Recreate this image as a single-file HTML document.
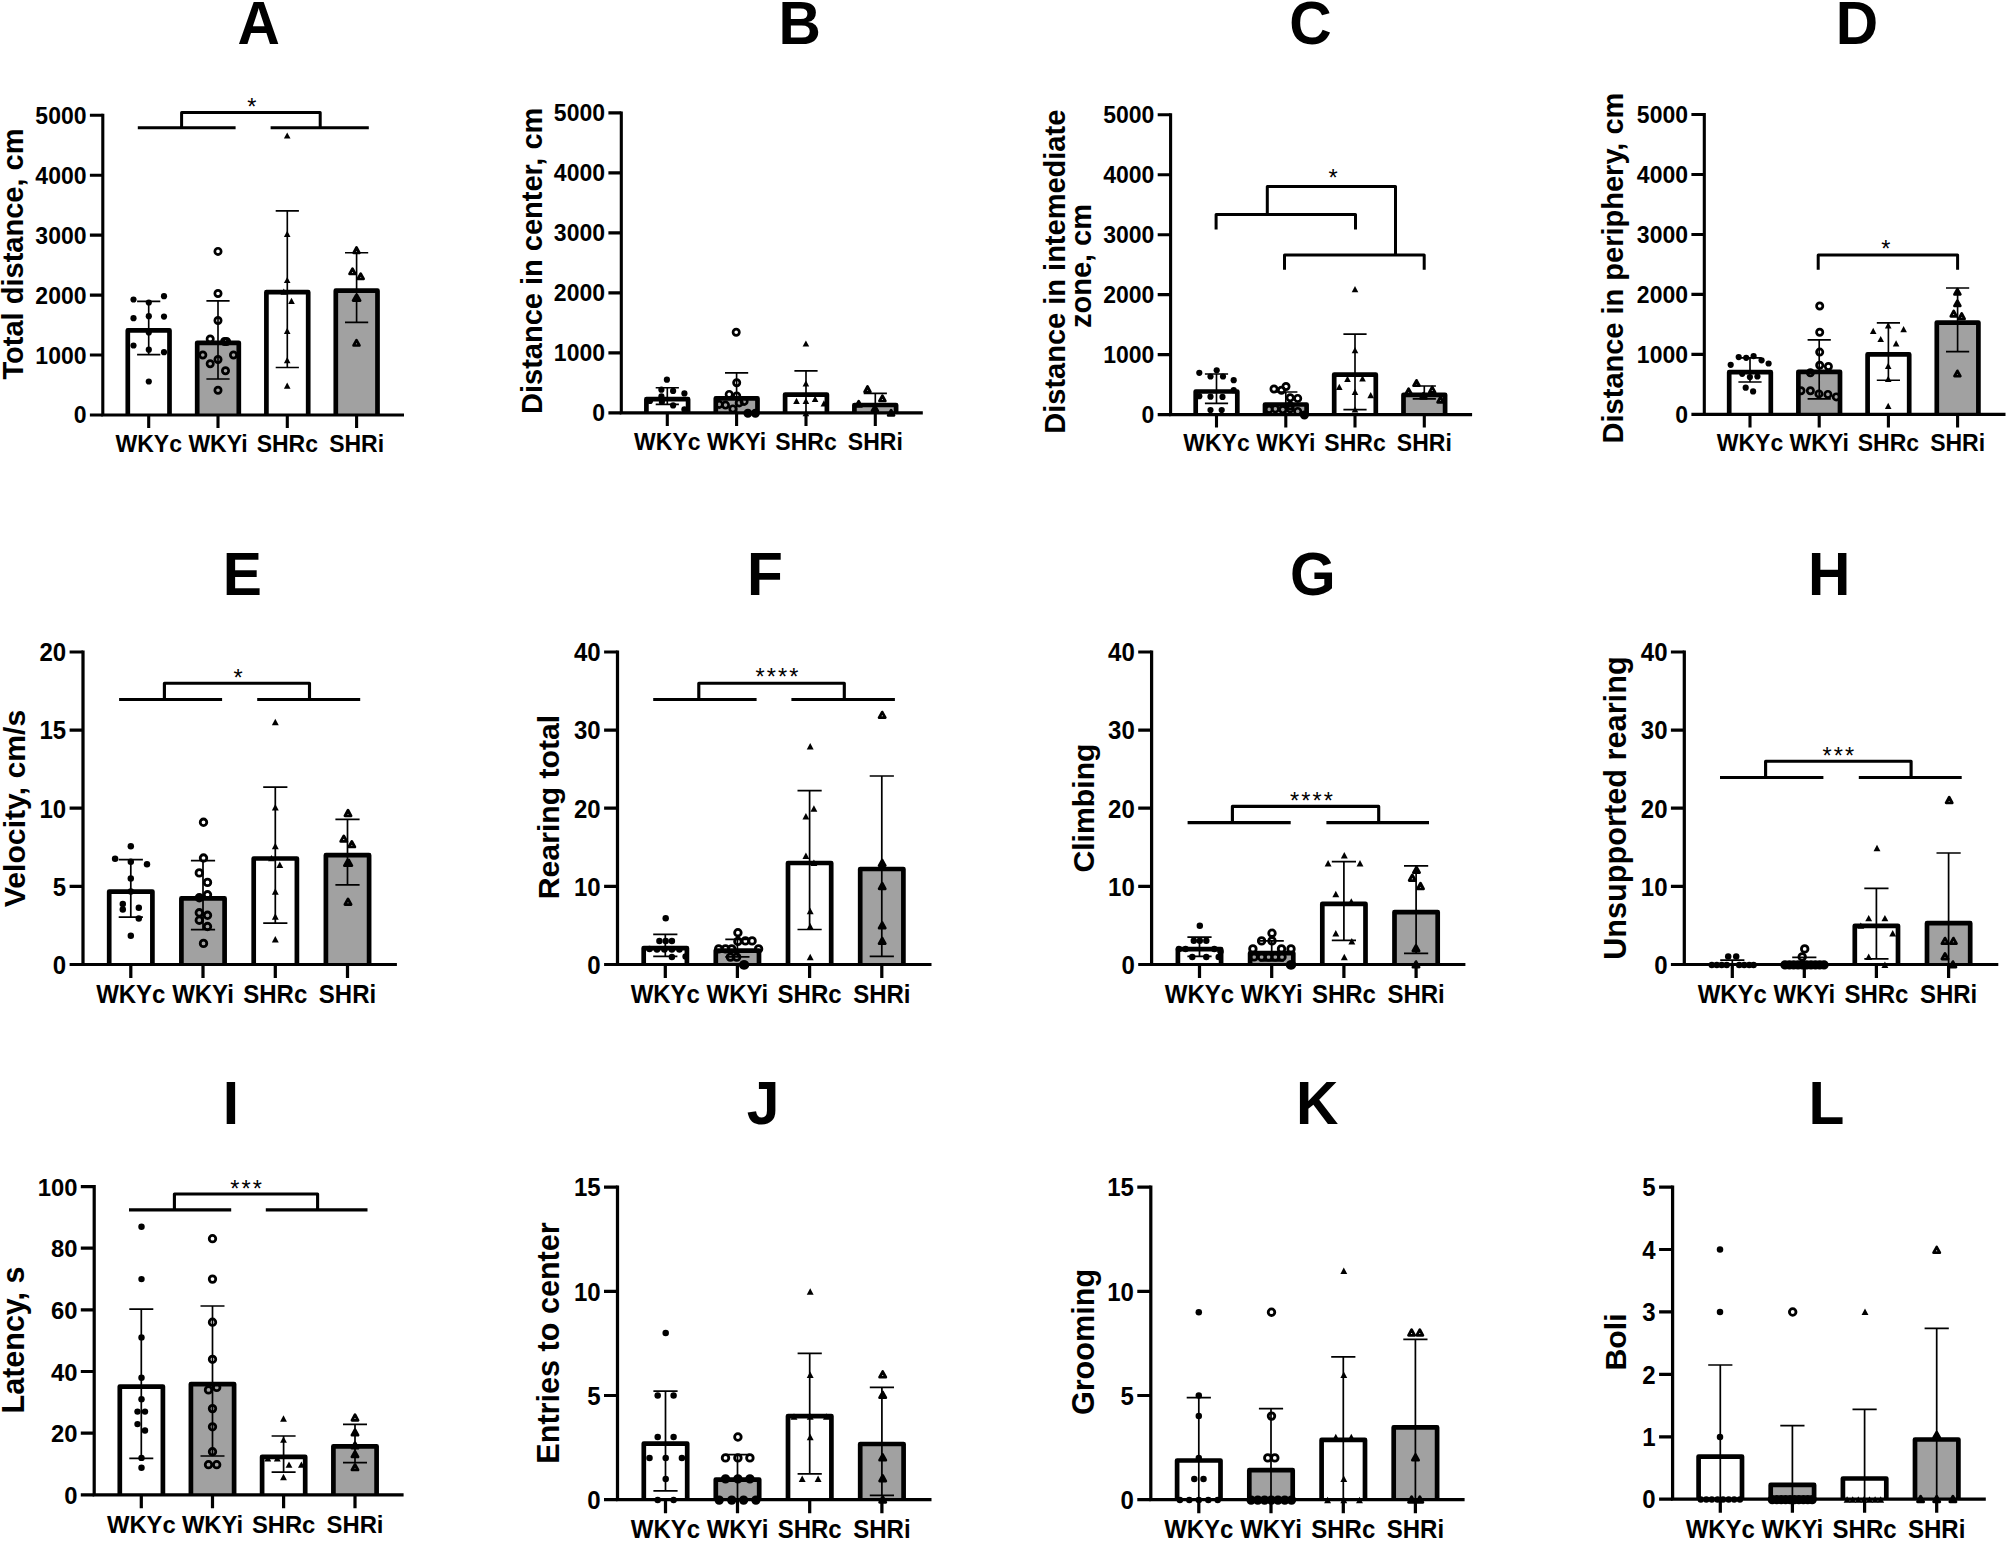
<!DOCTYPE html>
<html lang="en">
<head>
<meta charset="utf-8">
<title>Open field test: WKY and SHR rats</title>
<style>
html,body{margin:0;padding:0;background:#fff}
body{width:2007px;height:1541px;overflow:hidden}
svg{display:block}
text{font-family:"Liberation Sans",sans-serif;fill:#000}
.tt{font-size:58.7px;font-weight:700;text-anchor:middle}
.yl{font-weight:700;text-anchor:middle}
.tk{font-weight:700}
.st{font-size:23.5px;font-weight:400;letter-spacing:2.15px}
.a{fill:none;stroke:#000}
.b{stroke:#000;stroke-linejoin:round}
.e{fill:none;stroke:#000}
.k{fill:none;stroke:#000;stroke-linejoin:round}
.o{fill:none;stroke:#000;stroke-linejoin:round}
.of{fill:#000;stroke:#000;stroke-linejoin:round}
</style>
</head>
<body>
<svg width="2007" height="1541" viewBox="0 0 2007 1541">
<rect width="2007" height="1541" fill="#fff"/>
<g>
<text class="tt" transform="translate(258.7 44.2) scale(1 1.04)">A</text>
<text class="yl" font-size="29" transform="translate(23.4 254) rotate(-90)">Total distance, cm</text>
<path class="b" stroke-width="4.7" fill="#fff" d="M127.8 415V330.4H169.5V415"/>
<path class="b" stroke-width="4.7" fill="#a1a1a1" d="M197.2 415V342.8H238.8V415"/>
<path class="b" stroke-width="4.7" fill="#fff" d="M266.4 415V292.2H308.2V415"/>
<path class="b" stroke-width="4.7" fill="#a1a1a1" d="M335.8 415V290.7H377.5V415"/>
<path class="e" stroke-width="1.65" d="M148.7 301.3V354.6M137.1 301.3h23.2M137.1 354.6h23.2M218 300.8V379M206.4 300.8h23.2M206.4 379h23.2M287.3 210.9V367.5M275.7 210.9h23.2M275.7 367.5h23.2M356.6 252.7V322.4M345 252.7h23.2M345 322.4h23.2"/>
<circle cx="133.5" cy="299.5" r="3.1"/>
<circle cx="164" cy="296.2" r="3.1"/>
<circle cx="148.8" cy="302.5" r="3.1"/>
<circle cx="133.5" cy="318.2" r="3.1"/>
<circle cx="148.8" cy="316.2" r="3.1"/>
<circle cx="164" cy="316.6" r="3.1"/>
<circle cx="148.8" cy="332.5" r="3.1"/>
<circle cx="133.5" cy="345.5" r="3.1"/>
<circle cx="148.8" cy="349.7" r="3.1"/>
<circle cx="164" cy="352.2" r="3.1"/>
<circle cx="148.8" cy="381.5" r="3.1"/>
<circle cx="218" cy="251.4" r="3.15" class="o" stroke-width="2.7"/>
<circle cx="218" cy="293.5" r="3.15" class="o" stroke-width="2.7"/>
<circle cx="218" cy="320.5" r="3.15" class="o" stroke-width="2.7"/>
<circle cx="210.2" cy="339" r="3.15" class="o" stroke-width="2.7"/>
<circle cx="224.6" cy="341.5" r="3.15" class="o" stroke-width="2.7"/>
<circle cx="226.6" cy="341.5" r="3.15" class="o" stroke-width="2.7"/>
<circle cx="202.8" cy="355" r="3.15" class="o" stroke-width="2.7"/>
<circle cx="233.5" cy="355" r="3.15" class="o" stroke-width="2.7"/>
<circle cx="218" cy="359.5" r="3.15" class="o" stroke-width="2.7"/>
<circle cx="210.2" cy="363.8" r="3.15" class="o" stroke-width="2.7"/>
<circle cx="225.5" cy="370.8" r="3.15" class="o" stroke-width="2.7"/>
<circle cx="218" cy="390.3" r="3.15" class="o" stroke-width="2.7"/>
<path d="M287.2 132.4l3.3 6.2h-6.6z"/>
<path d="M287.2 230.8l3.3 6.2h-6.6z"/>
<path d="M287.2 276.9l3.3 6.2h-6.6z"/>
<path d="M291.5 297.8l3.3 6.2h-6.6z"/>
<path d="M287.2 327.7l3.3 6.2h-6.6z"/>
<path d="M287.2 357.1l3.3 6.2h-6.6z"/>
<path d="M287.2 382.5l3.3 6.2h-6.6z"/>
<path d="M283.8 288.6l3.3 6.2h-6.6z"/>
<path class="o" stroke-width="2.7" d="M356.5 247.5l2.95 5.32h-5.9z"/>
<path class="o" stroke-width="2.7" d="M352.5 268.7l2.95 5.32h-5.9z"/>
<path class="o" stroke-width="2.7" d="M360.7 273.6l2.95 5.32h-5.9z"/>
<path class="of" stroke-width="2.7" d="M356 295.3l2.95 5.32h-5.9z"/>
<path class="of" stroke-width="2.7" d="M357.2 295.3l2.95 5.32h-5.9z"/>
<path class="o" stroke-width="2.7" d="M356.5 340.2l2.95 5.32h-5.9z"/>
<path class="a" stroke-width="3.1" d="M102.8 113.7V415H404"/>
<path class="a" stroke-width="3.1" d="M89.9 415h12.9M89.9 355h12.9M89.9 295.1h12.9M89.9 235.1h12.9M89.9 175.2h12.9M89.9 115.2h12.9M148.7 415v13M218 415v13M287.3 415v13M356.6 415v13"/>
<text class="tk" font-size="23" text-anchor="end" transform="translate(86.5 423.4) scale(1 1.04)">0</text>
<text class="tk" font-size="23" text-anchor="end" transform="translate(86.5 363.5) scale(1 1.04)">1000</text>
<text class="tk" font-size="23" text-anchor="end" transform="translate(86.5 303.5) scale(1 1.04)">2000</text>
<text class="tk" font-size="23" text-anchor="end" transform="translate(86.5 243.6) scale(1 1.04)">3000</text>
<text class="tk" font-size="23" text-anchor="end" transform="translate(86.5 183.6) scale(1 1.04)">4000</text>
<text class="tk" font-size="23" text-anchor="end" transform="translate(86.5 123.6) scale(1 1.04)">5000</text>
<text class="tk" font-size="23" text-anchor="middle" transform="translate(148.7 451.7) scale(1 1.04)">WKYc</text>
<text class="tk" font-size="23" text-anchor="middle" transform="translate(218 451.7) scale(1 1.04)">WKYi</text>
<text class="tk" font-size="23" text-anchor="middle" transform="translate(287.3 451.7) scale(1 1.04)">SHRc</text>
<text class="tk" font-size="23" text-anchor="middle" transform="translate(356.6 451.7) scale(1 1.04)">SHRi</text>
<path class="k" stroke-width="3" d="M137.8 127.8H235.6M270.6 127.8H368.8M181.6 127.8V112.5H320.2V127.8"/>
<text class="st" text-anchor="middle" x="252.8" y="114.5">*</text>
</g>
<g>
<text class="tt" transform="translate(799.7 44.2) scale(1 1.04)">B</text>
<text class="yl" font-size="29" transform="translate(542.3 260.8) rotate(-90)">Distance in center, cm</text>
<path class="b" stroke-width="4.7" fill="#fff" d="M646.4 412.9V399.2H688.1V412.9"/>
<path class="b" stroke-width="4.7" fill="#a1a1a1" d="M715.8 412.9V398.4H757.5V412.9"/>
<path class="b" stroke-width="4.7" fill="#fff" d="M785.1 412.9V394.6H826.9V412.9"/>
<path class="b" stroke-width="4.7" fill="#a1a1a1" d="M854.4 412.9V405H896.1V412.9"/>
<path class="e" stroke-width="1.65" d="M667.3 387.7V404.4M655.7 387.7h23.2M655.7 404.4h23.2M736.6 372.8V412.9M725 372.8h23.2M806 370.8V412.9M794.4 370.8h23.2M875.3 393.4V412.9M863.7 393.4h23.2"/>
<circle cx="666.9" cy="379.7" r="3.1"/>
<circle cx="661.4" cy="389.7" r="3.1"/>
<circle cx="673.1" cy="390.9" r="3.1"/>
<circle cx="684.4" cy="393.4" r="3.1"/>
<circle cx="661.4" cy="396.4" r="3.1"/>
<circle cx="650" cy="400.9" r="3.1"/>
<circle cx="661.9" cy="401.9" r="3.1"/>
<circle cx="673.1" cy="405.4" r="3.1"/>
<circle cx="684.4" cy="409.4" r="3.1"/>
<circle cx="736.2" cy="332.2" r="3.15" class="o" stroke-width="2.7"/>
<circle cx="736.7" cy="382.7" r="3.15" class="o" stroke-width="2.7"/>
<circle cx="729.2" cy="394.4" r="3.15" class="o" stroke-width="2.7"/>
<circle cx="736.7" cy="395.9" r="3.15" class="o" stroke-width="2.7"/>
<circle cx="744.1" cy="401.4" r="3.15" class="o" stroke-width="2.7"/>
<circle cx="739.2" cy="402.9" r="3.15" class="o" stroke-width="2.7"/>
<circle cx="719.2" cy="404.4" r="3.15" class="o" stroke-width="2.7"/>
<circle cx="725.5" cy="405.1" r="3.15" class="o" stroke-width="2.7"/>
<circle cx="732.9" cy="408.9" r="3.15" class="o" stroke-width="2.7"/>
<circle cx="747.9" cy="413.3" r="3.15" class="of" stroke-width="2.7"/>
<circle cx="755.4" cy="413.3" r="3.15" class="of" stroke-width="2.7"/>
<path d="M805.9 340.4l3.3 6.2h-6.6z"/>
<path d="M805.9 380.3l3.3 6.2h-6.6z"/>
<path d="M796.5 397.7l3.3 6.2h-6.6z"/>
<path d="M805.9 397.7l3.3 6.2h-6.6z"/>
<path d="M815.1 395.7l3.3 6.2h-6.6z"/>
<path d="M823.9 400.2l3.3 6.2h-6.6z"/>
<path d="M805.9 410.1l3.3 6.2h-6.6z"/>
<path class="o" stroke-width="2.7" d="M867.5 386.5l2.95 5.32h-5.9z"/>
<path class="o" stroke-width="2.7" d="M882.4 395.7l2.95 5.32h-5.9z"/>
<path class="o" stroke-width="2.7" d="M858.7 401.2l2.95 5.32h-5.9z"/>
<path class="of" stroke-width="2.7" d="M874.9 405.7l2.95 5.32h-5.9z"/>
<path class="of" stroke-width="2.7" d="M891.1 410.1l2.95 5.32h-5.9z"/>
<path class="a" stroke-width="3.1" d="M621.3 111.4V412.9H922.8"/>
<path class="a" stroke-width="3.1" d="M608.4 412.9h12.9M608.4 352.9h12.9M608.4 292.9h12.9M608.4 232.9h12.9M608.4 172.9h12.9M608.4 112.9h12.9M667.3 412.9v13M736.6 412.9v13M806 412.9v13M875.3 412.9v13"/>
<text class="tk" font-size="23" text-anchor="end" transform="translate(605 421.3) scale(1 1.04)">0</text>
<text class="tk" font-size="23" text-anchor="end" transform="translate(605 361.3) scale(1 1.04)">1000</text>
<text class="tk" font-size="23" text-anchor="end" transform="translate(605 301.3) scale(1 1.04)">2000</text>
<text class="tk" font-size="23" text-anchor="end" transform="translate(605 241.3) scale(1 1.04)">3000</text>
<text class="tk" font-size="23" text-anchor="end" transform="translate(605 181.3) scale(1 1.04)">4000</text>
<text class="tk" font-size="23" text-anchor="end" transform="translate(605 121.3) scale(1 1.04)">5000</text>
<text class="tk" font-size="23" text-anchor="middle" transform="translate(667.3 449.6) scale(1 1.04)">WKYc</text>
<text class="tk" font-size="23" text-anchor="middle" transform="translate(736.6 449.6) scale(1 1.04)">WKYi</text>
<text class="tk" font-size="23" text-anchor="middle" transform="translate(806 449.6) scale(1 1.04)">SHRc</text>
<text class="tk" font-size="23" text-anchor="middle" transform="translate(875.3 449.6) scale(1 1.04)">SHRi</text>
</g>
<g>
<text class="tt" transform="translate(1310.5 44.2) scale(1 1.04)">C</text>
<text class="yl" font-size="29" transform="translate(1065 271.7) rotate(-90)">Distance in intemediate</text>
<text class="yl" font-size="29" transform="translate(1091 266) rotate(-90)">zone, cm</text>
<path class="b" stroke-width="4.7" fill="#fff" d="M1195.7 414.6V391.5H1237.3V414.6"/>
<path class="b" stroke-width="4.7" fill="#a1a1a1" d="M1265 414.6V404.5H1306.6V414.6"/>
<path class="b" stroke-width="4.7" fill="#fff" d="M1334.2 414.6V374.6H1375.8V414.6"/>
<path class="b" stroke-width="4.7" fill="#a1a1a1" d="M1403.5 414.6V394.8H1445.1V414.6"/>
<path class="e" stroke-width="1.65" d="M1216.5 374V403.4M1204.9 374h23.2M1204.9 403.4h23.2M1285.8 392V414.6M1274.2 392h23.2M1355 334.1V409.6M1343.4 334.1h23.2M1343.4 409.6h23.2M1424.3 386V398.9M1412.7 386h23.2M1412.7 398.9h23.2"/>
<circle cx="1199.3" cy="372.8" r="3.1"/>
<circle cx="1216.7" cy="370.3" r="3.1"/>
<circle cx="1210.5" cy="376.5" r="3.1"/>
<circle cx="1223" cy="376.5" r="3.1"/>
<circle cx="1233.7" cy="380.2" r="3.1"/>
<circle cx="1233.7" cy="390.2" r="3.1"/>
<circle cx="1199.3" cy="396.2" r="3.1"/>
<circle cx="1210.5" cy="396.7" r="3.1"/>
<circle cx="1222.5" cy="396.9" r="3.1"/>
<circle cx="1210.5" cy="410.1" r="3.1"/>
<circle cx="1221.7" cy="410.1" r="3.1"/>
<circle cx="1274" cy="389" r="3.15" class="o" stroke-width="2.7"/>
<circle cx="1281.5" cy="390.2" r="3.15" class="o" stroke-width="2.7"/>
<circle cx="1286" cy="386.5" r="3.15" class="o" stroke-width="2.7"/>
<circle cx="1290.2" cy="397.7" r="3.15" class="o" stroke-width="2.7"/>
<circle cx="1297.7" cy="398.4" r="3.15" class="o" stroke-width="2.7"/>
<circle cx="1290.2" cy="405.9" r="3.15" class="o" stroke-width="2.7"/>
<circle cx="1275.3" cy="408.9" r="3.15" class="o" stroke-width="2.7"/>
<circle cx="1282.8" cy="409.6" r="3.15" class="o" stroke-width="2.7"/>
<circle cx="1290.2" cy="408.9" r="3.15" class="o" stroke-width="2.7"/>
<circle cx="1297.7" cy="411.4" r="3.15" class="o" stroke-width="2.7"/>
<circle cx="1304.4" cy="415" r="3.15" class="of" stroke-width="2.7"/>
<circle cx="1269.1" cy="409.4" r="3.15" class="o" stroke-width="2.7"/>
<path d="M1355 286.1l3.3 6.2h-6.6z"/>
<path d="M1355 347.1l3.3 6.2h-6.6z"/>
<path d="M1347.5 375.8l3.3 6.2h-6.6z"/>
<path d="M1362.5 375.3l3.3 6.2h-6.6z"/>
<path d="M1339.3 383.8l3.3 6.2h-6.6z"/>
<path d="M1355 388.7l3.3 6.2h-6.6z"/>
<path d="M1370.7 392l3.3 6.2h-6.6z"/>
<path d="M1355 406.4l3.3 6.2h-6.6z"/>
<path class="o" stroke-width="2.7" d="M1416.5 380.3l2.95 5.32h-5.9z"/>
<path class="o" stroke-width="2.7" d="M1408.6 388.7l2.95 5.32h-5.9z"/>
<path class="o" stroke-width="2.7" d="M1432.2 387l2.95 5.32h-5.9z"/>
<path class="of" stroke-width="2.7" d="M1423.5 393.2l2.95 5.32h-5.9z"/>
<path class="o" stroke-width="2.7" d="M1440.5 397l2.95 5.32h-5.9z"/>
<path class="a" stroke-width="3.1" d="M1170.6 113.2V414.6H1472.1"/>
<path class="a" stroke-width="3.1" d="M1157.7 414.6h12.9M1157.7 354.6h12.9M1157.7 294.6h12.9M1157.7 234.7h12.9M1157.7 174.7h12.9M1157.7 114.7h12.9M1216.5 414.6v13M1285.8 414.6v13M1355 414.6v13M1424.3 414.6v13"/>
<text class="tk" font-size="23" text-anchor="end" transform="translate(1154.3 423.1) scale(1 1.04)">0</text>
<text class="tk" font-size="23" text-anchor="end" transform="translate(1154.3 363.1) scale(1 1.04)">1000</text>
<text class="tk" font-size="23" text-anchor="end" transform="translate(1154.3 303.1) scale(1 1.04)">2000</text>
<text class="tk" font-size="23" text-anchor="end" transform="translate(1154.3 243.1) scale(1 1.04)">3000</text>
<text class="tk" font-size="23" text-anchor="end" transform="translate(1154.3 183.1) scale(1 1.04)">4000</text>
<text class="tk" font-size="23" text-anchor="end" transform="translate(1154.3 123.2) scale(1 1.04)">5000</text>
<text class="tk" font-size="23" text-anchor="middle" transform="translate(1216.5 451.3) scale(1 1.04)">WKYc</text>
<text class="tk" font-size="23" text-anchor="middle" transform="translate(1285.8 451.3) scale(1 1.04)">WKYi</text>
<text class="tk" font-size="23" text-anchor="middle" transform="translate(1355 451.3) scale(1 1.04)">SHRc</text>
<text class="tk" font-size="23" text-anchor="middle" transform="translate(1424.3 451.3) scale(1 1.04)">SHRi</text>
<path class="k" stroke-width="3" d="M1216.1 229.4V214.5H1355.5V229.4M1284.5 269.8V255.1H1424.2V269.8M1267.3 214.5V186.5H1395.5V255.1"/>
<text class="st" text-anchor="middle" x="1334.2" y="186.1">*</text>
</g>
<g>
<text class="tt" transform="translate(1857 44.2) scale(1 1.04)">D</text>
<text class="yl" font-size="29" transform="translate(1623 268) rotate(-90)">Distance in periphery, cm</text>
<path class="b" stroke-width="4.7" fill="#fff" d="M1729.2 414.4V372.2H1770.8V414.4"/>
<path class="b" stroke-width="4.7" fill="#a1a1a1" d="M1798.4 414.4V371.8H1840V414.4"/>
<path class="b" stroke-width="4.7" fill="#fff" d="M1867.6 414.4V354.4H1909.2V414.4"/>
<path class="b" stroke-width="4.7" fill="#a1a1a1" d="M1936.8 414.4V322.6H1978.4V414.4"/>
<path class="e" stroke-width="1.65" d="M1750 357.8V382M1738.4 357.8h23.2M1738.4 382h23.2M1819.2 339.9V398.9M1807.6 339.9h23.2M1807.6 398.9h23.2M1888.4 322.9V380.2M1876.8 322.9h23.2M1876.8 380.2h23.2M1957.6 288V351.6M1946 288h23.2M1946 351.6h23.2"/>
<circle cx="1738.7" cy="357.1" r="3.1"/>
<circle cx="1746.2" cy="357.8" r="3.1"/>
<circle cx="1753.6" cy="356.1" r="3.1"/>
<circle cx="1761.6" cy="360.3" r="3.1"/>
<circle cx="1730.7" cy="364.8" r="3.1"/>
<circle cx="1768.6" cy="363.5" r="3.1"/>
<circle cx="1742.2" cy="373.8" r="3.1"/>
<circle cx="1757.4" cy="376.5" r="3.1"/>
<circle cx="1749.9" cy="377" r="3.1"/>
<circle cx="1745.7" cy="387.7" r="3.1"/>
<circle cx="1753.1" cy="391.4" r="3.1"/>
<circle cx="1819.7" cy="306" r="3.15" class="o" stroke-width="2.7"/>
<circle cx="1819.7" cy="332.2" r="3.15" class="o" stroke-width="2.7"/>
<circle cx="1819.7" cy="352.1" r="3.15" class="o" stroke-width="2.7"/>
<circle cx="1819.7" cy="365.3" r="3.15" class="o" stroke-width="2.7"/>
<circle cx="1828.4" cy="366.5" r="3.15" class="o" stroke-width="2.7"/>
<circle cx="1810.4" cy="372.8" r="3.15" class="o" stroke-width="2.7"/>
<circle cx="1801" cy="390.7" r="3.15" class="o" stroke-width="2.7"/>
<circle cx="1810.4" cy="390.7" r="3.15" class="o" stroke-width="2.7"/>
<circle cx="1818.9" cy="393.9" r="3.15" class="o" stroke-width="2.7"/>
<circle cx="1827.9" cy="394.4" r="3.15" class="o" stroke-width="2.7"/>
<circle cx="1836.3" cy="396.9" r="3.15" class="o" stroke-width="2.7"/>
<path d="M1873.2 327.7l3.3 6.2h-6.6z"/>
<path d="M1903.6 326l3.3 6.2h-6.6z"/>
<path d="M1888.2 322.2l3.3 6.2h-6.6z"/>
<path d="M1880.7 335.9l3.3 6.2h-6.6z"/>
<path d="M1896.1 340.2l3.3 6.2h-6.6z"/>
<path d="M1888.2 362.8l3.3 6.2h-6.6z"/>
<path d="M1888.2 375.8l3.3 6.2h-6.6z"/>
<path d="M1888.2 402.7l3.3 6.2h-6.6z"/>
<path class="of" stroke-width="2.7" d="M1957.4 289.1l2.95 5.32h-5.9z"/>
<path class="of" stroke-width="2.7" d="M1957.4 300.6l2.95 5.32h-5.9z"/>
<path class="o" stroke-width="2.7" d="M1953.7 311l2.95 5.32h-5.9z"/>
<path class="o" stroke-width="2.7" d="M1961.7 313.5l2.95 5.32h-5.9z"/>
<path class="o" stroke-width="2.7" d="M1957.4 370.8l2.95 5.32h-5.9z"/>
<path class="a" stroke-width="3.1" d="M1704.3 113V414.4H2005.5"/>
<path class="a" stroke-width="3.1" d="M1691.4 414.4h12.9M1691.4 354.4h12.9M1691.4 294.4h12.9M1691.4 234.5h12.9M1691.4 174.5h12.9M1691.4 114.5h12.9M1750 414.4v13M1819.2 414.4v13M1888.4 414.4v13M1957.6 414.4v13"/>
<text class="tk" font-size="23" text-anchor="end" transform="translate(1688 422.8) scale(1 1.04)">0</text>
<text class="tk" font-size="23" text-anchor="end" transform="translate(1688 362.9) scale(1 1.04)">1000</text>
<text class="tk" font-size="23" text-anchor="end" transform="translate(1688 302.9) scale(1 1.04)">2000</text>
<text class="tk" font-size="23" text-anchor="end" transform="translate(1688 242.9) scale(1 1.04)">3000</text>
<text class="tk" font-size="23" text-anchor="end" transform="translate(1688 182.9) scale(1 1.04)">4000</text>
<text class="tk" font-size="23" text-anchor="end" transform="translate(1688 123) scale(1 1.04)">5000</text>
<text class="tk" font-size="23" text-anchor="middle" transform="translate(1750 451.1) scale(1 1.04)">WKYc</text>
<text class="tk" font-size="23" text-anchor="middle" transform="translate(1819.2 451.1) scale(1 1.04)">WKYi</text>
<text class="tk" font-size="23" text-anchor="middle" transform="translate(1888.4 451.1) scale(1 1.04)">SHRc</text>
<text class="tk" font-size="23" text-anchor="middle" transform="translate(1957.6 451.1) scale(1 1.04)">SHRi</text>
<path class="k" stroke-width="3" d="M1818.2 269.7V255.1H1957.6V269.7"/>
<text class="st" text-anchor="middle" x="1886.8" y="256.6">*</text>
</g>
<g>
<text class="tt" transform="translate(242.2 594.6) scale(1 1.04)">E</text>
<text class="yl" font-size="30.2" transform="translate(25.2 808.5) rotate(-90)">Velocity, cm/s</text>
<path class="b" stroke-width="4.7" fill="#fff" d="M109.2 964.5V891.6H152.4V964.5"/>
<path class="b" stroke-width="4.7" fill="#a1a1a1" d="M181.4 964.5V898.4H224.6V964.5"/>
<path class="b" stroke-width="4.7" fill="#fff" d="M253.7 964.5V858.5H296.9V964.5"/>
<path class="b" stroke-width="4.7" fill="#a1a1a1" d="M325.9 964.5V855.2H369.1V964.5"/>
<path class="e" stroke-width="1.72" d="M130.8 859.7V917.2M118.7 859.7h24.2M118.7 917.2h24.2M203 860.7V929.7M190.9 860.7h24.2M190.9 929.7h24.2M275.3 787.2V923.2M263.2 787.2h24.2M263.2 923.2h24.2M347.5 819.3V884.9M335.4 819.3h24.2M335.4 884.9h24.2"/>
<circle cx="130.8" cy="846.2" r="3.23"/>
<circle cx="115.1" cy="858.7" r="3.23"/>
<circle cx="130.8" cy="861.7" r="3.23"/>
<circle cx="147" cy="864.2" r="3.23"/>
<circle cx="130.8" cy="878.6" r="3.23"/>
<circle cx="130.8" cy="891.6" r="3.23"/>
<circle cx="122.8" cy="904" r="3.23"/>
<circle cx="122.8" cy="909.5" r="3.23"/>
<circle cx="138.8" cy="907.8" r="3.23"/>
<circle cx="138.8" cy="918.5" r="3.23"/>
<circle cx="130.8" cy="935.7" r="3.23"/>
<circle cx="203.5" cy="822.3" r="3.28" class="o" stroke-width="2.81"/>
<circle cx="203.5" cy="858" r="3.28" class="o" stroke-width="2.81"/>
<circle cx="199.3" cy="872.9" r="3.28" class="o" stroke-width="2.81"/>
<circle cx="207.5" cy="882.4" r="3.28" class="o" stroke-width="2.81"/>
<circle cx="207.5" cy="894.8" r="3.28" class="o" stroke-width="2.81"/>
<circle cx="199.3" cy="897.8" r="3.28" class="o" stroke-width="2.81"/>
<circle cx="199.3" cy="912.8" r="3.28" class="o" stroke-width="2.81"/>
<circle cx="207.5" cy="915.3" r="3.28" class="o" stroke-width="2.81"/>
<circle cx="199.3" cy="920.2" r="3.28" class="o" stroke-width="2.81"/>
<circle cx="207.5" cy="926.5" r="3.28" class="o" stroke-width="2.81"/>
<circle cx="203.5" cy="943.4" r="3.28" class="o" stroke-width="2.81"/>
<path d="M275.3 718.8l3.44 6.46h-6.88z"/>
<path d="M275.3 804l3.44 6.46h-6.88z"/>
<path d="M275.3 842.7l3.44 6.46h-6.88z"/>
<path d="M279.8 861.6l3.44 6.46h-6.88z"/>
<path d="M275.3 888.3l3.44 6.46h-6.88z"/>
<path d="M275.3 913.2l3.44 6.46h-6.88z"/>
<path d="M275.3 936.1l3.44 6.46h-6.88z"/>
<path d="M271.5 854.9l3.44 6.46h-6.88z"/>
<path class="o" stroke-width="2.81" d="M348 810.3l3.07 5.54h-6.15z"/>
<path class="o" stroke-width="2.81" d="M343.8 835.9l3.07 5.54h-6.15z"/>
<path class="o" stroke-width="2.81" d="M351.8 841.4l3.07 5.54h-6.15z"/>
<path class="of" stroke-width="2.81" d="M347.5 860.1l3.07 5.54h-6.15z"/>
<path class="of" stroke-width="2.81" d="M348.8 860.1l3.07 5.54h-6.15z"/>
<path class="o" stroke-width="2.81" d="M348 899l3.07 5.54h-6.15z"/>
<path class="a" stroke-width="3.23" d="M83 650.4V964.5H396.9"/>
<path class="a" stroke-width="3.23" d="M69.6 964.5h13.4M69.6 886.4h13.4M69.6 808.2h13.4M69.6 730.1h13.4M69.6 652h13.4M130.8 964.5v13.5M203 964.5v13.5M275.3 964.5v13.5M347.5 964.5v13.5"/>
<text class="tk" font-size="24" text-anchor="end" transform="translate(66.2 973.7) scale(1 1.04)">0</text>
<text class="tk" font-size="24" text-anchor="end" transform="translate(66.2 895.6) scale(1 1.04)">5</text>
<text class="tk" font-size="24" text-anchor="end" transform="translate(66.2 817.5) scale(1 1.04)">10</text>
<text class="tk" font-size="24" text-anchor="end" transform="translate(66.2 739.3) scale(1 1.04)">15</text>
<text class="tk" font-size="24" text-anchor="end" transform="translate(66.2 661.2) scale(1 1.04)">20</text>
<text class="tk" font-size="24" text-anchor="middle" transform="translate(130.8 1002.7) scale(1 1.04)">WKYc</text>
<text class="tk" font-size="24" text-anchor="middle" transform="translate(203 1002.7) scale(1 1.04)">WKYi</text>
<text class="tk" font-size="24" text-anchor="middle" transform="translate(275.3 1002.7) scale(1 1.04)">SHRc</text>
<text class="tk" font-size="24" text-anchor="middle" transform="translate(347.5 1002.7) scale(1 1.04)">SHRi</text>
<path class="k" stroke-width="3.13" d="M119.1 699.5H222.1M257.2 699.5H360.2M164.4 699.5V683.2H309.5V699.5"/>
<text class="st" text-anchor="middle" x="239.1" y="685.6">*</text>
</g>
<g>
<text class="tt" transform="translate(764.8 594.6) scale(1 1.04)">F</text>
<text class="yl" font-size="30.2" transform="translate(558.5 807) rotate(-90)">Rearing total</text>
<path class="b" stroke-width="4.7" fill="#fff" d="M643.7 964.5V948.1H686.9V964.5"/>
<path class="b" stroke-width="4.7" fill="#a1a1a1" d="M715.8 964.5V950.6H759V964.5"/>
<path class="b" stroke-width="4.7" fill="#fff" d="M788 964.5V863H831.2V964.5"/>
<path class="b" stroke-width="4.7" fill="#a1a1a1" d="M860.2 964.5V869H903.4V964.5"/>
<path class="e" stroke-width="1.72" d="M665.3 934.4V956.4M653.2 934.4h24.2M653.2 956.4h24.2M737.4 939.4V956.9M725.3 939.4h24.2M725.3 956.9h24.2M809.6 790.7V929.5M797.5 790.7h24.2M797.5 929.5h24.2M881.8 776V956.4M869.7 776h24.2M869.7 956.4h24.2"/>
<circle cx="665.7" cy="918.2" r="3.23"/>
<circle cx="659.4" cy="940.9" r="3.23"/>
<circle cx="665.7" cy="940.9" r="3.23"/>
<circle cx="671.9" cy="940.9" r="3.23"/>
<circle cx="649.5" cy="948.9" r="3.23"/>
<circle cx="657" cy="949.6" r="3.23"/>
<circle cx="664.4" cy="949.6" r="3.23"/>
<circle cx="671.9" cy="949.6" r="3.23"/>
<circle cx="679.4" cy="949.6" r="3.23"/>
<circle cx="671.9" cy="957.1" r="3.23"/>
<circle cx="685.6" cy="956.4" r="3.23"/>
<circle cx="737.9" cy="932.7" r="3.28" class="o" stroke-width="2.81"/>
<circle cx="737.9" cy="941.4" r="3.28" class="o" stroke-width="2.81"/>
<circle cx="745.4" cy="940.9" r="3.28" class="o" stroke-width="2.81"/>
<circle cx="752.1" cy="940.9" r="3.28" class="o" stroke-width="2.81"/>
<circle cx="718.7" cy="948.9" r="3.28" class="o" stroke-width="2.81"/>
<circle cx="725.5" cy="948.9" r="3.28" class="o" stroke-width="2.81"/>
<circle cx="731.7" cy="948.9" r="3.28" class="o" stroke-width="2.81"/>
<circle cx="758.6" cy="948.9" r="3.28" class="o" stroke-width="2.81"/>
<circle cx="730.4" cy="957.1" r="3.28" class="o" stroke-width="2.81"/>
<circle cx="736.7" cy="957.1" r="3.28" class="o" stroke-width="2.81"/>
<circle cx="743.6" cy="964.9" r="3.28" class="of" stroke-width="2.81"/>
<circle cx="744.6" cy="964.9" r="3.28" class="of" stroke-width="2.81"/>
<path d="M810.2 743l3.44 6.46h-6.88z"/>
<path d="M813.9 805.3l3.44 6.46h-6.88z"/>
<path d="M805.9 813l3.44 6.46h-6.88z"/>
<path d="M805.9 852.6l3.44 6.46h-6.88z"/>
<path d="M813.9 859.6l3.44 6.46h-6.88z"/>
<path d="M810.2 907.7l3.44 6.46h-6.88z"/>
<path d="M810.2 923.1l3.44 6.46h-6.88z"/>
<path d="M810.2 953.8l3.44 6.46h-6.88z"/>
<path class="o" stroke-width="2.81" d="M882.2 712.1l3.07 5.54h-6.15z"/>
<path class="of" stroke-width="2.81" d="M882.2 860.1l3.07 5.54h-6.15z"/>
<path class="of" stroke-width="2.81" d="M882.2 883.3l3.07 5.54h-6.15z"/>
<path class="of" stroke-width="2.81" d="M882.2 922.6l3.07 5.54h-6.15z"/>
<path class="of" stroke-width="2.81" d="M882.2 938.1l3.07 5.54h-6.15z"/>
<path class="a" stroke-width="3.23" d="M617.5 650.4V964.5H931.5"/>
<path class="a" stroke-width="3.23" d="M604.1 964.5h13.4M604.1 886.4h13.4M604.1 808.2h13.4M604.1 730.1h13.4M604.1 652h13.4M665.3 964.5v13.5M737.4 964.5v13.5M809.6 964.5v13.5M881.8 964.5v13.5"/>
<text class="tk" font-size="24" text-anchor="end" transform="translate(600.7 973.7) scale(1 1.04)">0</text>
<text class="tk" font-size="24" text-anchor="end" transform="translate(600.7 895.6) scale(1 1.04)">10</text>
<text class="tk" font-size="24" text-anchor="end" transform="translate(600.7 817.5) scale(1 1.04)">20</text>
<text class="tk" font-size="24" text-anchor="end" transform="translate(600.7 739.3) scale(1 1.04)">30</text>
<text class="tk" font-size="24" text-anchor="end" transform="translate(600.7 661.2) scale(1 1.04)">40</text>
<text class="tk" font-size="24" text-anchor="middle" transform="translate(665.3 1002.7) scale(1 1.04)">WKYc</text>
<text class="tk" font-size="24" text-anchor="middle" transform="translate(737.4 1002.7) scale(1 1.04)">WKYi</text>
<text class="tk" font-size="24" text-anchor="middle" transform="translate(809.6 1002.7) scale(1 1.04)">SHRc</text>
<text class="tk" font-size="24" text-anchor="middle" transform="translate(881.8 1002.7) scale(1 1.04)">SHRi</text>
<path class="k" stroke-width="3.13" d="M653.2 699.5H756.6M791.4 699.5H894.9M698.8 699.5V683.2H844.3V699.5"/>
<text class="st" text-anchor="middle" x="778" y="685">****</text>
</g>
<g>
<text class="tt" transform="translate(1312.8 594.6) scale(1 1.04)">G</text>
<text class="yl" font-size="30.2" transform="translate(1093.5 808) rotate(-90)">Climbing</text>
<path class="b" stroke-width="4.7" fill="#fff" d="M1177.9 964.5V949.1H1221.1V964.5"/>
<path class="b" stroke-width="4.7" fill="#a1a1a1" d="M1250.1 964.5V953.2H1293.3V964.5"/>
<path class="b" stroke-width="4.7" fill="#fff" d="M1322.3 964.5V903.8H1365.5V964.5"/>
<path class="b" stroke-width="4.7" fill="#a1a1a1" d="M1394.5 964.5V912.1H1437.7V964.5"/>
<path class="e" stroke-width="1.72" d="M1199.5 937.2V956.4M1187.4 937.2h24.2M1187.4 956.4h24.2M1271.7 940.9V960.8M1259.6 940.9h24.2M1259.6 960.8h24.2M1343.9 861.7V940.4M1331.8 861.7h24.2M1331.8 940.4h24.2M1416.1 865.9V953.4M1404 865.9h24.2M1404 953.4h24.2"/>
<circle cx="1199.8" cy="925.7" r="3.23"/>
<circle cx="1193.8" cy="940.7" r="3.23"/>
<circle cx="1199.8" cy="940.7" r="3.23"/>
<circle cx="1206.3" cy="940.7" r="3.23"/>
<circle cx="1178.9" cy="948.9" r="3.23"/>
<circle cx="1185.6" cy="948.9" r="3.23"/>
<circle cx="1214.3" cy="948.9" r="3.23"/>
<circle cx="1220.5" cy="951.4" r="3.23"/>
<circle cx="1192.3" cy="956.9" r="3.23"/>
<circle cx="1218.7" cy="956.9" r="3.23"/>
<circle cx="1206.3" cy="956.9" r="3.23"/>
<circle cx="1272" cy="933.2" r="3.28" class="o" stroke-width="2.81"/>
<circle cx="1261.6" cy="940.9" r="3.28" class="o" stroke-width="2.81"/>
<circle cx="1272" cy="940.9" r="3.28" class="o" stroke-width="2.81"/>
<circle cx="1252.9" cy="948.9" r="3.28" class="o" stroke-width="2.81"/>
<circle cx="1281.5" cy="948.9" r="3.28" class="o" stroke-width="2.81"/>
<circle cx="1291" cy="948.9" r="3.28" class="o" stroke-width="2.81"/>
<circle cx="1254.1" cy="956.9" r="3.28" class="o" stroke-width="2.81"/>
<circle cx="1261.6" cy="956.9" r="3.28" class="o" stroke-width="2.81"/>
<circle cx="1268.6" cy="956.9" r="3.28" class="o" stroke-width="2.81"/>
<circle cx="1275.3" cy="956.9" r="3.28" class="o" stroke-width="2.81"/>
<circle cx="1282" cy="956.9" r="3.28" class="o" stroke-width="2.81"/>
<circle cx="1290.5" cy="964.9" r="3.28" class="of" stroke-width="2.81"/>
<circle cx="1291.5" cy="964.9" r="3.28" class="of" stroke-width="2.81"/>
<path d="M1344.3 852.1l3.44 6.46h-6.88z"/>
<path d="M1328.1 860.1l3.44 6.46h-6.88z"/>
<path d="M1360 860.1l3.44 6.46h-6.88z"/>
<path d="M1335.8 890.7l3.44 6.46h-6.88z"/>
<path d="M1351.3 898.2l3.44 6.46h-6.88z"/>
<path d="M1335.8 930.1l3.44 6.46h-6.88z"/>
<path d="M1351.8 938.1l3.44 6.46h-6.88z"/>
<path d="M1344.3 953.8l3.44 6.46h-6.88z"/>
<path class="of" stroke-width="2.81" d="M1416.5 867.1l3.07 5.54h-6.15z"/>
<path class="o" stroke-width="2.81" d="M1412.3 875l3.07 5.54h-6.15z"/>
<path class="o" stroke-width="2.81" d="M1420.5 883.3l3.07 5.54h-6.15z"/>
<path class="of" stroke-width="2.81" d="M1416 945.5l3.07 5.54h-6.15z"/>
<path class="of" stroke-width="2.81" d="M1416 961.6l3.07 5.54h-6.15z"/>
<path class="a" stroke-width="3.23" d="M1151.6 650.4V964.5H1465.4"/>
<path class="a" stroke-width="3.23" d="M1138.2 964.5h13.4M1138.2 886.4h13.4M1138.2 808.2h13.4M1138.2 730.1h13.4M1138.2 652h13.4M1199.5 964.5v13.5M1271.7 964.5v13.5M1343.9 964.5v13.5M1416.1 964.5v13.5"/>
<text class="tk" font-size="24" text-anchor="end" transform="translate(1134.8 973.7) scale(1 1.04)">0</text>
<text class="tk" font-size="24" text-anchor="end" transform="translate(1134.8 895.6) scale(1 1.04)">10</text>
<text class="tk" font-size="24" text-anchor="end" transform="translate(1134.8 817.5) scale(1 1.04)">20</text>
<text class="tk" font-size="24" text-anchor="end" transform="translate(1134.8 739.3) scale(1 1.04)">30</text>
<text class="tk" font-size="24" text-anchor="end" transform="translate(1134.8 661.2) scale(1 1.04)">40</text>
<text class="tk" font-size="24" text-anchor="middle" transform="translate(1199.5 1002.7) scale(1 1.04)">WKYc</text>
<text class="tk" font-size="24" text-anchor="middle" transform="translate(1271.7 1002.7) scale(1 1.04)">WKYi</text>
<text class="tk" font-size="24" text-anchor="middle" transform="translate(1343.9 1002.7) scale(1 1.04)">SHRc</text>
<text class="tk" font-size="24" text-anchor="middle" transform="translate(1416.1 1002.7) scale(1 1.04)">SHRi</text>
<path class="k" stroke-width="3.13" d="M1187.6 822.6H1290.7M1326.4 822.6H1429M1232.4 822.6V806.4H1378.7V822.6"/>
<text class="st" text-anchor="middle" x="1312.5" y="808.9">****</text>
</g>
<g>
<text class="tt" transform="translate(1829.3 594.6) scale(1 1.04)">H</text>
<text class="yl" font-size="30.7" transform="translate(1626 808.1) rotate(-90)">Unsupported rearing</text>
<path class="b" stroke-width="4.7" fill="#fff" d="M1854.8 964.5V925.8H1898V964.5"/>
<path class="b" stroke-width="4.7" fill="#a1a1a1" d="M1927 964.5V923.2H1970.2V964.5"/>
<path class="e" stroke-width="1.72" d="M1732.3 960.2V964.5M1720.2 960.2h24.2M1804.3 957.3V964.5M1792.2 957.3h24.2M1876.4 888.3V958.8M1864.3 888.3h24.2M1864.3 958.8h24.2M1948.6 853V964.5M1936.5 853h24.2"/>
<circle cx="1728.2" cy="956.4" r="3.23"/>
<circle cx="1736.2" cy="956.4" r="3.23"/>
<circle cx="1711.8" cy="964.9" r="3.23"/>
<circle cx="1716.8" cy="964.9" r="3.23"/>
<circle cx="1721.7" cy="964.9" r="3.23"/>
<circle cx="1726.7" cy="964.9" r="3.23"/>
<circle cx="1739.2" cy="964.9" r="3.23"/>
<circle cx="1744.2" cy="964.9" r="3.23"/>
<circle cx="1749.2" cy="964.9" r="3.23"/>
<circle cx="1753.6" cy="964.9" r="3.23"/>
<circle cx="1804.7" cy="948.9" r="3.28" class="o" stroke-width="2.81"/>
<circle cx="1802.2" cy="956.9" r="3.28" class="o" stroke-width="2.81"/>
<circle cx="1785" cy="964.9" r="3.28" class="of" stroke-width="2.81"/>
<circle cx="1789.4" cy="964.9" r="3.28" class="of" stroke-width="2.81"/>
<circle cx="1793.7" cy="964.9" r="3.28" class="of" stroke-width="2.81"/>
<circle cx="1798" cy="964.9" r="3.28" class="of" stroke-width="2.81"/>
<circle cx="1802.4" cy="964.9" r="3.28" class="of" stroke-width="2.81"/>
<circle cx="1806.7" cy="964.9" r="3.28" class="of" stroke-width="2.81"/>
<circle cx="1811" cy="964.9" r="3.28" class="of" stroke-width="2.81"/>
<circle cx="1815.4" cy="964.9" r="3.28" class="of" stroke-width="2.81"/>
<circle cx="1819.7" cy="964.9" r="3.28" class="of" stroke-width="2.81"/>
<circle cx="1824" cy="964.9" r="3.28" class="of" stroke-width="2.81"/>
<path d="M1877 844.7l3.44 6.46h-6.88z"/>
<path d="M1868.7 914.9l3.44 6.46h-6.88z"/>
<path d="M1884.9 914.9l3.44 6.46h-6.88z"/>
<path d="M1860.8 922.4l3.44 6.46h-6.88z"/>
<path d="M1892.7 930.1l3.44 6.46h-6.88z"/>
<path d="M1868.7 953.5l3.44 6.46h-6.88z"/>
<path d="M1884.9 961.6l3.44 6.46h-6.88z"/>
<path class="o" stroke-width="2.81" d="M1949.2 797.3l3.07 5.54h-6.15z"/>
<path class="o" stroke-width="2.81" d="M1945 938.1l3.07 5.54h-6.15z"/>
<path class="o" stroke-width="2.81" d="M1953.4 938.1l3.07 5.54h-6.15z"/>
<path class="o" stroke-width="2.81" d="M1945 953.5l3.07 5.54h-6.15z"/>
<path class="of" stroke-width="2.81" d="M1952.9 961.6l3.07 5.54h-6.15z"/>
<path class="a" stroke-width="3.23" d="M1684.3 650.4V964.5H1998.3"/>
<path class="a" stroke-width="3.23" d="M1670.9 964.5h13.4M1670.9 886.4h13.4M1670.9 808.2h13.4M1670.9 730.1h13.4M1670.9 652h13.4M1732.3 964.5v13.5M1804.3 964.5v13.5M1876.4 964.5v13.5M1948.6 964.5v13.5"/>
<text class="tk" font-size="24" text-anchor="end" transform="translate(1667.5 973.7) scale(1 1.04)">0</text>
<text class="tk" font-size="24" text-anchor="end" transform="translate(1667.5 895.6) scale(1 1.04)">10</text>
<text class="tk" font-size="24" text-anchor="end" transform="translate(1667.5 817.5) scale(1 1.04)">20</text>
<text class="tk" font-size="24" text-anchor="end" transform="translate(1667.5 739.3) scale(1 1.04)">30</text>
<text class="tk" font-size="24" text-anchor="end" transform="translate(1667.5 661.2) scale(1 1.04)">40</text>
<text class="tk" font-size="24" text-anchor="middle" transform="translate(1732.3 1002.7) scale(1 1.04)">WKYc</text>
<text class="tk" font-size="24" text-anchor="middle" transform="translate(1804.3 1002.7) scale(1 1.04)">WKYi</text>
<text class="tk" font-size="24" text-anchor="middle" transform="translate(1876.4 1002.7) scale(1 1.04)">SHRc</text>
<text class="tk" font-size="24" text-anchor="middle" transform="translate(1948.6 1002.7) scale(1 1.04)">SHRi</text>
<path class="k" stroke-width="3.13" d="M1720 777.5H1823.4M1858.8 777.5H1961.7M1765.6 777.5V761.3H1911.1V777.5"/>
<text class="st" text-anchor="middle" x="1839.4" y="764">***</text>
</g>
<g>
<text class="tt" transform="translate(231 1123.7) scale(1 1.04)">I</text>
<text class="yl" font-size="30.5" transform="translate(24 1340) rotate(-90)">Latency, s</text>
<path class="b" stroke-width="4.7" fill="#fff" d="M119.8 1494.8V1386.6H162.9V1494.8"/>
<path class="b" stroke-width="4.7" fill="#a1a1a1" d="M190.9 1494.8V1384.1H234.1V1494.8"/>
<path class="b" stroke-width="4.7" fill="#fff" d="M262.1 1494.8V1456.8H305.2V1494.8"/>
<path class="b" stroke-width="4.7" fill="#a1a1a1" d="M333.4 1494.8V1446.3H376.6V1494.8"/>
<path class="e" stroke-width="1.71" d="M141.3 1309.2V1458.4M129.3 1309.2h24M129.3 1458.4h24M212.5 1306V1456M200.5 1306h24M200.5 1456h24M283.6 1436V1472.1M271.6 1436h24M271.6 1472.1h24M355 1424.3V1462.7M343 1424.3h24M343 1462.7h24"/>
<circle cx="141.5" cy="1226.8" r="3.21"/>
<circle cx="141.5" cy="1279.1" r="3.21"/>
<circle cx="141.5" cy="1337.4" r="3.21"/>
<circle cx="141.5" cy="1377.7" r="3.21"/>
<circle cx="141.5" cy="1399.2" r="3.21"/>
<circle cx="137.5" cy="1411.6" r="3.21"/>
<circle cx="145" cy="1411.6" r="3.21"/>
<circle cx="137.5" cy="1424.1" r="3.21"/>
<circle cx="145" cy="1430.5" r="3.21"/>
<circle cx="141.5" cy="1457.9" r="3.21"/>
<circle cx="141.5" cy="1467.7" r="3.21"/>
<circle cx="212.5" cy="1238.7" r="3.26" class="o" stroke-width="2.79"/>
<circle cx="212.5" cy="1279.1" r="3.26" class="o" stroke-width="2.79"/>
<circle cx="212.5" cy="1322.2" r="3.26" class="o" stroke-width="2.79"/>
<circle cx="212.5" cy="1359.3" r="3.26" class="o" stroke-width="2.79"/>
<circle cx="208.5" cy="1389.9" r="3.26" class="o" stroke-width="2.79"/>
<circle cx="216.7" cy="1387.4" r="3.26" class="o" stroke-width="2.79"/>
<circle cx="212.5" cy="1408.6" r="3.26" class="o" stroke-width="2.79"/>
<circle cx="212.5" cy="1426.8" r="3.26" class="o" stroke-width="2.79"/>
<circle cx="212.5" cy="1451.7" r="3.26" class="o" stroke-width="2.79"/>
<circle cx="208.5" cy="1464.7" r="3.26" class="o" stroke-width="2.79"/>
<circle cx="216.7" cy="1464.7" r="3.26" class="o" stroke-width="2.79"/>
<path d="M283.5 1415.3l3.42 6.42h-6.83z"/>
<path d="M283.5 1436.4l3.42 6.42h-6.83z"/>
<path d="M267.8 1455.1l3.42 6.42h-6.83z"/>
<path d="M277.3 1455.1l3.42 6.42h-6.83z"/>
<path d="M289 1461.4l3.42 6.42h-6.83z"/>
<path d="M301.4 1461.4l3.42 6.42h-6.83z"/>
<path d="M283.5 1473.8l3.42 6.42h-6.83z"/>
<path class="o" stroke-width="2.79" d="M355 1414.8l3.05 5.51h-6.11z"/>
<path class="of" stroke-width="2.79" d="M355 1429.7l3.05 5.51h-6.11z"/>
<path class="of" stroke-width="2.79" d="M355 1442.7l3.05 5.51h-6.11z"/>
<path class="of" stroke-width="2.79" d="M355 1451.4l3.05 5.51h-6.11z"/>
<path class="o" stroke-width="2.79" d="M355 1464.4l3.05 5.51h-6.11z"/>
<path class="a" stroke-width="3.21" d="M94.2 1185V1494.8H403.6"/>
<path class="a" stroke-width="3.21" d="M80.8 1494.8h13.4M80.8 1433.2h13.4M80.8 1371.5h13.4M80.8 1309.9h13.4M80.8 1248.2h13.4M80.8 1186.6h13.4M141.3 1494.8v13.5M212.5 1494.8v13.5M283.6 1494.8v13.5M355 1494.8v13.5"/>
<text class="tk" font-size="23.8" text-anchor="end" transform="translate(77.4 1503.9) scale(1 1.04)">0</text>
<text class="tk" font-size="23.8" text-anchor="end" transform="translate(77.4 1442.3) scale(1 1.04)">20</text>
<text class="tk" font-size="23.8" text-anchor="end" transform="translate(77.4 1380.7) scale(1 1.04)">40</text>
<text class="tk" font-size="23.8" text-anchor="end" transform="translate(77.4 1319) scale(1 1.04)">60</text>
<text class="tk" font-size="23.8" text-anchor="end" transform="translate(77.4 1257.4) scale(1 1.04)">80</text>
<text class="tk" font-size="23.8" text-anchor="end" transform="translate(77.4 1195.7) scale(1 1.04)">100</text>
<text class="tk" font-size="23.8" text-anchor="middle" transform="translate(141.3 1532.8) scale(1 1.04)">WKYc</text>
<text class="tk" font-size="23.8" text-anchor="middle" transform="translate(212.5 1532.8) scale(1 1.04)">WKYi</text>
<text class="tk" font-size="23.8" text-anchor="middle" transform="translate(283.6 1532.8) scale(1 1.04)">SHRc</text>
<text class="tk" font-size="23.8" text-anchor="middle" transform="translate(355 1532.8) scale(1 1.04)">SHRi</text>
<path class="k" stroke-width="3.1" d="M129 1209.9H231.2M265.8 1209.9H367.5M174.4 1209.9V1194H317.6V1209.9"/>
<text class="st" text-anchor="middle" x="247.2" y="1196.6">***</text>
</g>
<g>
<text class="tt" transform="translate(763.1 1123.7) scale(1 1.04)">J</text>
<text class="yl" font-size="30.6" transform="translate(558.8 1343) rotate(-90)">Entries to center</text>
<path class="b" stroke-width="4.7" fill="#fff" d="M643.8 1499.7V1443.6H687.2V1499.7"/>
<path class="b" stroke-width="4.7" fill="#a1a1a1" d="M715.8 1499.7V1479.6H759.2V1499.7"/>
<path class="b" stroke-width="4.7" fill="#fff" d="M788 1499.7V1416.1H831.4V1499.7"/>
<path class="b" stroke-width="4.7" fill="#a1a1a1" d="M860.2 1499.7V1444H903.6V1499.7"/>
<path class="e" stroke-width="1.72" d="M665.5 1391.2V1490.8M653.4 1391.2h24.2M653.4 1490.8h24.2M737.5 1454.7V1499.7M725.4 1454.7h24.2M809.7 1353.3V1473.9M797.6 1353.3h24.2M797.6 1473.9h24.2M881.9 1387.4V1495.3M869.8 1387.4h24.2M869.8 1495.3h24.2"/>
<circle cx="665.7" cy="1333.1" r="3.24"/>
<circle cx="657.7" cy="1395.4" r="3.24"/>
<circle cx="673.6" cy="1395.4" r="3.24"/>
<circle cx="657.7" cy="1437" r="3.24"/>
<circle cx="673.6" cy="1437" r="3.24"/>
<circle cx="649.5" cy="1457.9" r="3.24"/>
<circle cx="665.7" cy="1457.9" r="3.24"/>
<circle cx="681.9" cy="1457.9" r="3.24"/>
<circle cx="665.7" cy="1478.9" r="3.24"/>
<circle cx="657.7" cy="1500.1" r="3.24"/>
<circle cx="673.6" cy="1500.1" r="3.24"/>
<circle cx="737.9" cy="1437" r="3.29" class="o" stroke-width="2.82"/>
<circle cx="725.5" cy="1457.9" r="3.29" class="o" stroke-width="2.82"/>
<circle cx="737.9" cy="1457.9" r="3.29" class="o" stroke-width="2.82"/>
<circle cx="749.9" cy="1457.9" r="3.29" class="o" stroke-width="2.82"/>
<circle cx="725.5" cy="1478.9" r="3.29" class="of" stroke-width="2.82"/>
<circle cx="737.9" cy="1478.9" r="3.29" class="of" stroke-width="2.82"/>
<circle cx="749.9" cy="1478.9" r="3.29" class="of" stroke-width="2.82"/>
<circle cx="719.2" cy="1500.1" r="3.29" class="of" stroke-width="2.82"/>
<circle cx="731.7" cy="1500.1" r="3.29" class="of" stroke-width="2.82"/>
<circle cx="743.6" cy="1500.1" r="3.29" class="of" stroke-width="2.82"/>
<circle cx="755.9" cy="1500.1" r="3.29" class="of" stroke-width="2.82"/>
<path d="M810.2 1288.2l3.45 6.48h-6.9z"/>
<path d="M810.2 1371.6l3.45 6.48h-6.9z"/>
<path d="M810.2 1433.7l3.45 6.48h-6.9z"/>
<path d="M802.2 1475.5l3.45 6.48h-6.9z"/>
<path d="M818.1 1475.5l3.45 6.48h-6.9z"/>
<path d="M794 1413.2l3.45 6.48h-6.9z"/>
<path d="M826.4 1413.2l3.45 6.48h-6.9z"/>
<path d="M810.2 1413.2l3.45 6.48h-6.9z"/>
<path class="o" stroke-width="2.82" d="M882.7 1371.6l3.08 5.56h-6.17z"/>
<path class="of" stroke-width="2.82" d="M882.7 1392.1l3.08 5.56h-6.17z"/>
<path class="of" stroke-width="2.82" d="M882.7 1454.6l3.08 5.56h-6.17z"/>
<path class="of" stroke-width="2.82" d="M882.7 1475.5l3.08 5.56h-6.17z"/>
<path class="of" stroke-width="2.82" d="M882.7 1496.8l3.08 5.56h-6.17z"/>
<path class="a" stroke-width="3.24" d="M617.5 1185.6V1499.7H931.5"/>
<path class="a" stroke-width="3.24" d="M604 1499.7h13.5M604 1395.5h13.5M604 1291.4h13.5M604 1187.2h13.5M665.5 1499.7v13.6M737.5 1499.7v13.6M809.7 1499.7v13.6M881.9 1499.7v13.6"/>
<text class="tk" font-size="24" text-anchor="end" transform="translate(600.6 1508.9) scale(1 1.04)">0</text>
<text class="tk" font-size="24" text-anchor="end" transform="translate(600.6 1404.8) scale(1 1.04)">5</text>
<text class="tk" font-size="24" text-anchor="end" transform="translate(600.6 1300.6) scale(1 1.04)">10</text>
<text class="tk" font-size="24" text-anchor="end" transform="translate(600.6 1196.4) scale(1 1.04)">15</text>
<text class="tk" font-size="24" text-anchor="middle" transform="translate(665.5 1538.1) scale(1 1.04)">WKYc</text>
<text class="tk" font-size="24" text-anchor="middle" transform="translate(737.5 1538.1) scale(1 1.04)">WKYi</text>
<text class="tk" font-size="24" text-anchor="middle" transform="translate(809.7 1538.1) scale(1 1.04)">SHRc</text>
<text class="tk" font-size="24" text-anchor="middle" transform="translate(881.9 1538.1) scale(1 1.04)">SHRi</text>
</g>
<g>
<text class="tt" transform="translate(1317.2 1123.7) scale(1 1.04)">K</text>
<text class="yl" font-size="30.6" transform="translate(1093.5 1342) rotate(-90)">Grooming</text>
<path class="b" stroke-width="4.7" fill="#fff" d="M1177.1 1499.7V1460.5H1220.5V1499.7"/>
<path class="b" stroke-width="4.7" fill="#a1a1a1" d="M1249.3 1499.7V1470.2H1292.7V1499.7"/>
<path class="b" stroke-width="4.7" fill="#fff" d="M1321.6 1499.7V1439.9H1365V1499.7"/>
<path class="b" stroke-width="4.7" fill="#a1a1a1" d="M1393.7 1499.7V1427.4H1437.1V1499.7"/>
<path class="e" stroke-width="1.72" d="M1198.8 1397.7V1499.7M1186.7 1397.7h24.2M1271 1408.6V1499.7M1258.9 1408.6h24.2M1343.3 1356.8V1499.7M1331.2 1356.8h24.2M1415.4 1339.4V1499.7M1403.3 1339.4h24.2"/>
<circle cx="1198.8" cy="1312.2" r="3.24"/>
<circle cx="1198.8" cy="1395.4" r="3.24"/>
<circle cx="1198.8" cy="1416.1" r="3.24"/>
<circle cx="1198.8" cy="1457.9" r="3.24"/>
<circle cx="1194.3" cy="1478.9" r="3.24"/>
<circle cx="1203.5" cy="1478.9" r="3.24"/>
<circle cx="1179.9" cy="1500.1" r="3.24"/>
<circle cx="1189.3" cy="1500.1" r="3.24"/>
<circle cx="1198.8" cy="1500.1" r="3.24"/>
<circle cx="1208.3" cy="1500.1" r="3.24"/>
<circle cx="1217.7" cy="1500.1" r="3.24"/>
<circle cx="1271.5" cy="1312.2" r="3.29" class="o" stroke-width="2.82"/>
<circle cx="1271.5" cy="1416.1" r="3.29" class="o" stroke-width="2.82"/>
<circle cx="1267.8" cy="1457.9" r="3.29" class="o" stroke-width="2.82"/>
<circle cx="1274.8" cy="1457.9" r="3.29" class="o" stroke-width="2.82"/>
<circle cx="1251.1" cy="1500.1" r="3.29" class="of" stroke-width="2.82"/>
<circle cx="1257.8" cy="1500.1" r="3.29" class="of" stroke-width="2.82"/>
<circle cx="1264.6" cy="1500.1" r="3.29" class="of" stroke-width="2.82"/>
<circle cx="1271.3" cy="1500.1" r="3.29" class="of" stroke-width="2.82"/>
<circle cx="1278" cy="1500.1" r="3.29" class="of" stroke-width="2.82"/>
<circle cx="1284.8" cy="1500.1" r="3.29" class="of" stroke-width="2.82"/>
<circle cx="1291.5" cy="1500.1" r="3.29" class="of" stroke-width="2.82"/>
<path d="M1343.8 1267.5l3.45 6.48h-6.9z"/>
<path d="M1343.8 1371.6l3.45 6.48h-6.9z"/>
<path d="M1335.8 1433.7l3.45 6.48h-6.9z"/>
<path d="M1351.3 1433.7l3.45 6.48h-6.9z"/>
<path d="M1343.8 1475.5l3.45 6.48h-6.9z"/>
<path d="M1327.6 1496.8l3.45 6.48h-6.9z"/>
<path d="M1343.8 1496.8l3.45 6.48h-6.9z"/>
<path d="M1359.5 1496.8l3.45 6.48h-6.9z"/>
<path class="o" stroke-width="2.82" d="M1411.6 1329.8l3.08 5.56h-6.17z"/>
<path class="o" stroke-width="2.82" d="M1419.8 1329.8l3.08 5.56h-6.17z"/>
<path class="of" stroke-width="2.82" d="M1415.5 1454.6l3.08 5.56h-6.17z"/>
<path class="of" stroke-width="2.82" d="M1411.6 1496.8l3.08 5.56h-6.17z"/>
<path class="of" stroke-width="2.82" d="M1419.8 1496.8l3.08 5.56h-6.17z"/>
<path class="a" stroke-width="3.24" d="M1150.8 1185.6V1499.7H1464.6"/>
<path class="a" stroke-width="3.24" d="M1137.3 1499.7h13.5M1137.3 1395.5h13.5M1137.3 1291.4h13.5M1137.3 1187.2h13.5M1198.8 1499.7v13.6M1271 1499.7v13.6M1343.3 1499.7v13.6M1415.4 1499.7v13.6"/>
<text class="tk" font-size="24" text-anchor="end" transform="translate(1133.9 1508.9) scale(1 1.04)">0</text>
<text class="tk" font-size="24" text-anchor="end" transform="translate(1133.9 1404.8) scale(1 1.04)">5</text>
<text class="tk" font-size="24" text-anchor="end" transform="translate(1133.9 1300.6) scale(1 1.04)">10</text>
<text class="tk" font-size="24" text-anchor="end" transform="translate(1133.9 1196.4) scale(1 1.04)">15</text>
<text class="tk" font-size="24" text-anchor="middle" transform="translate(1198.8 1538.1) scale(1 1.04)">WKYc</text>
<text class="tk" font-size="24" text-anchor="middle" transform="translate(1271 1538.1) scale(1 1.04)">WKYi</text>
<text class="tk" font-size="24" text-anchor="middle" transform="translate(1343.3 1538.1) scale(1 1.04)">SHRc</text>
<text class="tk" font-size="24" text-anchor="middle" transform="translate(1415.4 1538.1) scale(1 1.04)">SHRi</text>
</g>
<g>
<text class="tt" transform="translate(1826.3 1123.7) scale(1 1.04)">L</text>
<text class="yl" font-size="30.3" transform="translate(1626 1342) rotate(-90)">Boli</text>
<path class="b" stroke-width="4.7" fill="#fff" d="M1698.6 1499.2V1456.6H1742V1499.2"/>
<path class="b" stroke-width="4.7" fill="#a1a1a1" d="M1770.7 1499.2V1484.9H1814.1V1499.2"/>
<path class="b" stroke-width="4.7" fill="#fff" d="M1842.9 1499.2V1478.5H1886.3V1499.2"/>
<path class="b" stroke-width="4.7" fill="#a1a1a1" d="M1915 1499.2V1439.5H1958.4V1499.2"/>
<path class="e" stroke-width="1.72" d="M1720.3 1365V1499.2M1708.2 1365h24.2M1792.4 1425.6V1499.2M1780.3 1425.6h24.2M1864.6 1409.4V1499.2M1852.5 1409.4h24.2M1936.7 1328.4V1499.2M1924.6 1328.4h24.2"/>
<circle cx="1720" cy="1249.4" r="3.24"/>
<circle cx="1720" cy="1312" r="3.24"/>
<circle cx="1720" cy="1437" r="3.24"/>
<circle cx="1700.8" cy="1499.6" r="3.24"/>
<circle cx="1706.3" cy="1499.6" r="3.24"/>
<circle cx="1711.8" cy="1499.6" r="3.24"/>
<circle cx="1717.5" cy="1499.6" r="3.24"/>
<circle cx="1723" cy="1499.6" r="3.24"/>
<circle cx="1728.7" cy="1499.6" r="3.24"/>
<circle cx="1734.2" cy="1499.6" r="3.24"/>
<circle cx="1739.9" cy="1499.6" r="3.24"/>
<circle cx="1792.7" cy="1312" r="3.29" class="o" stroke-width="2.82"/>
<circle cx="1772.3" cy="1499.6" r="3.29" class="of" stroke-width="2.82"/>
<circle cx="1776.8" cy="1499.6" r="3.29" class="of" stroke-width="2.82"/>
<circle cx="1781.2" cy="1499.6" r="3.29" class="of" stroke-width="2.82"/>
<circle cx="1785.6" cy="1499.6" r="3.29" class="of" stroke-width="2.82"/>
<circle cx="1790.1" cy="1499.6" r="3.29" class="of" stroke-width="2.82"/>
<circle cx="1794.5" cy="1499.6" r="3.29" class="of" stroke-width="2.82"/>
<circle cx="1798.9" cy="1499.6" r="3.29" class="of" stroke-width="2.82"/>
<circle cx="1803.4" cy="1499.6" r="3.29" class="of" stroke-width="2.82"/>
<circle cx="1807.8" cy="1499.6" r="3.29" class="of" stroke-width="2.82"/>
<circle cx="1812.2" cy="1499.6" r="3.29" class="of" stroke-width="2.82"/>
<path d="M1865 1308.6l3.45 6.48h-6.9z"/>
<path d="M1847.1 1496.3l3.45 6.48h-6.9z"/>
<path d="M1852.7 1496.3l3.45 6.48h-6.9z"/>
<path d="M1858.3 1496.3l3.45 6.48h-6.9z"/>
<path d="M1863.9 1496.3l3.45 6.48h-6.9z"/>
<path d="M1869.5 1496.3l3.45 6.48h-6.9z"/>
<path d="M1875.1 1496.3l3.45 6.48h-6.9z"/>
<path d="M1880.7 1496.3l3.45 6.48h-6.9z"/>
<path class="o" stroke-width="2.82" d="M1936.7 1247.1l3.08 5.56h-6.17z"/>
<path class="of" stroke-width="2.82" d="M1936.7 1432.2l3.08 5.56h-6.17z"/>
<path class="of" stroke-width="2.82" d="M1920.6 1496.3l3.08 5.56h-6.17z"/>
<path class="of" stroke-width="2.82" d="M1936.7 1496.3l3.08 5.56h-6.17z"/>
<path class="of" stroke-width="2.82" d="M1952.9 1496.3l3.08 5.56h-6.17z"/>
<path class="a" stroke-width="3.24" d="M1672.6 1185.5V1499.2H1985.8"/>
<path class="a" stroke-width="3.24" d="M1659.1 1499.2h13.5M1659.1 1436.8h13.5M1659.1 1374.4h13.5M1659.1 1311.9h13.5M1659.1 1249.5h13.5M1659.1 1187.1h13.5M1720.3 1499.2v13.6M1792.4 1499.2v13.6M1864.6 1499.2v13.6M1936.7 1499.2v13.6"/>
<text class="tk" font-size="24" text-anchor="end" transform="translate(1655.7 1508.4) scale(1 1.04)">0</text>
<text class="tk" font-size="24" text-anchor="end" transform="translate(1655.7 1446) scale(1 1.04)">1</text>
<text class="tk" font-size="24" text-anchor="end" transform="translate(1655.7 1383.6) scale(1 1.04)">2</text>
<text class="tk" font-size="24" text-anchor="end" transform="translate(1655.7 1321.2) scale(1 1.04)">3</text>
<text class="tk" font-size="24" text-anchor="end" transform="translate(1655.7 1258.8) scale(1 1.04)">4</text>
<text class="tk" font-size="24" text-anchor="end" transform="translate(1655.7 1196.3) scale(1 1.04)">5</text>
<text class="tk" font-size="24" text-anchor="middle" transform="translate(1720.3 1537.6) scale(1 1.04)">WKYc</text>
<text class="tk" font-size="24" text-anchor="middle" transform="translate(1792.4 1537.6) scale(1 1.04)">WKYi</text>
<text class="tk" font-size="24" text-anchor="middle" transform="translate(1864.6 1537.6) scale(1 1.04)">SHRc</text>
<text class="tk" font-size="24" text-anchor="middle" transform="translate(1936.7 1537.6) scale(1 1.04)">SHRi</text>
</g>
</svg>
</body>
</html>
